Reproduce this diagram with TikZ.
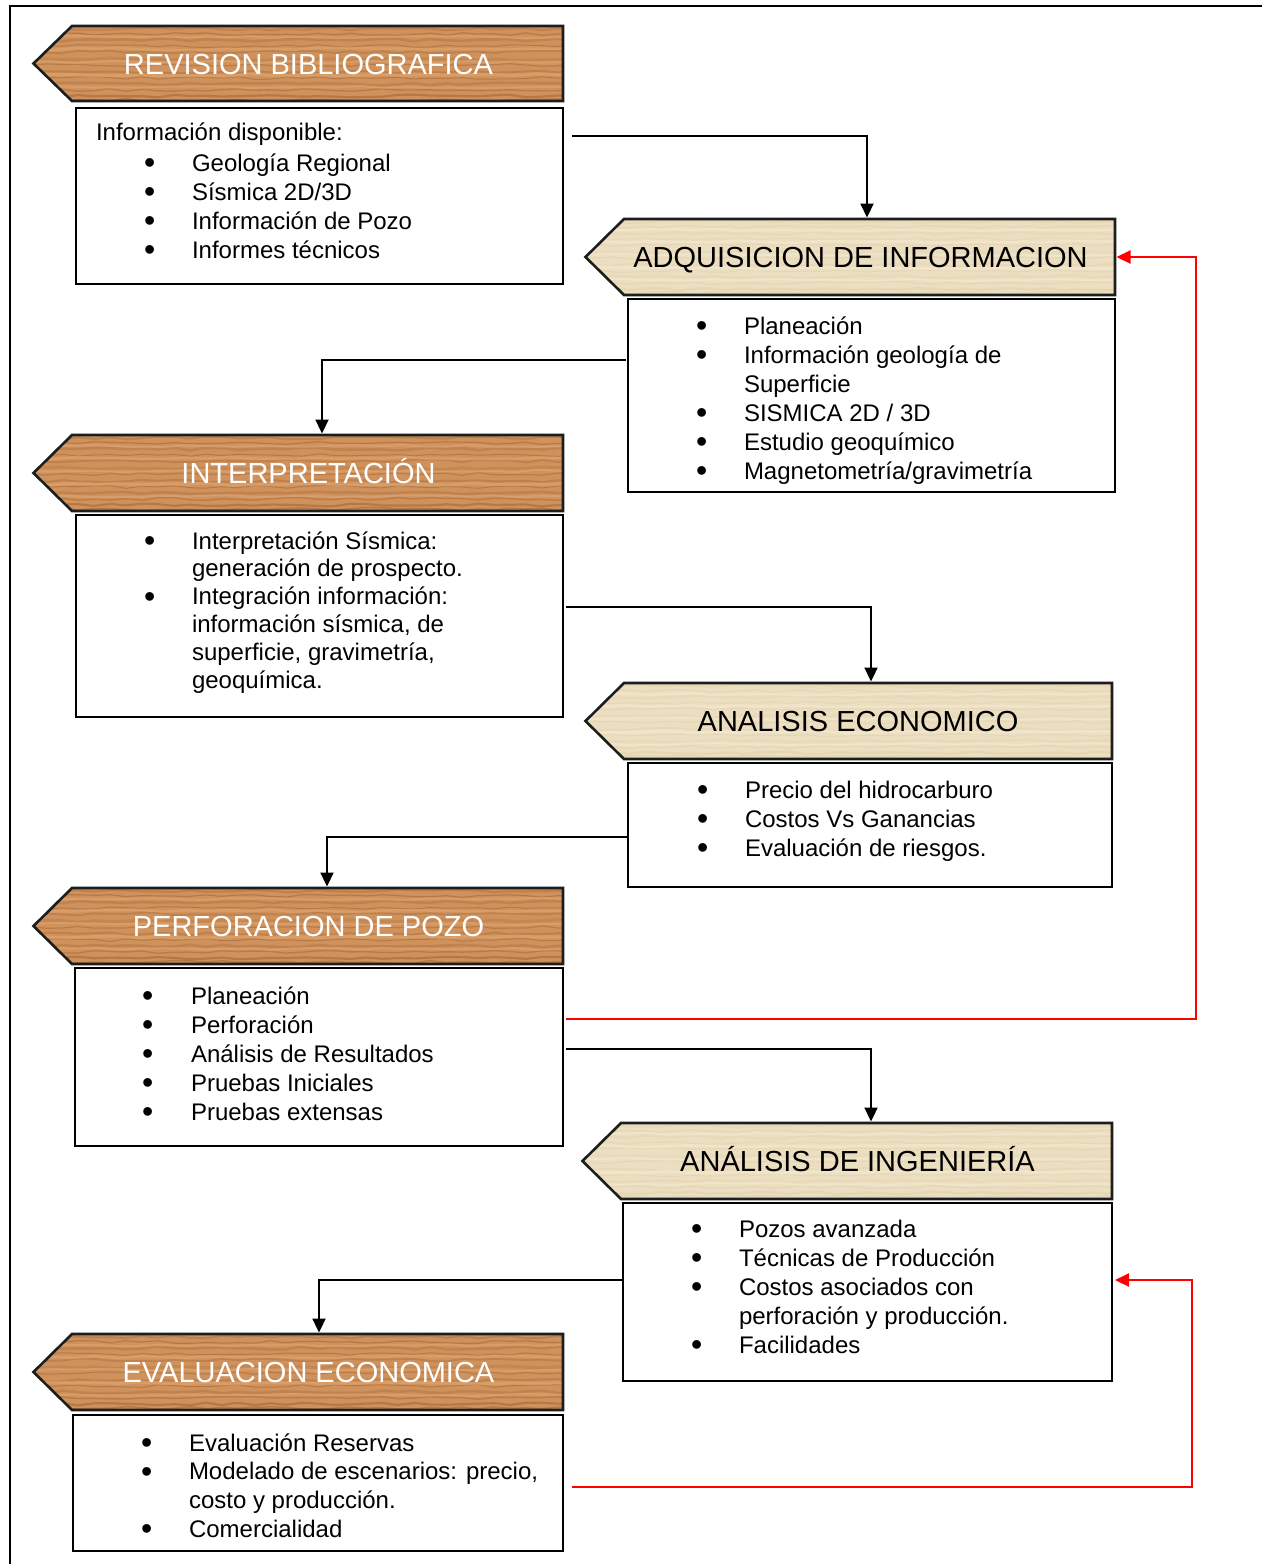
\documentclass[tikz,border=0pt]{standalone}
\usepackage{fontspec}
\setmainfont{Liberation Sans}
\usetikzlibrary{arrows.meta,decorations.pathmorphing}
\definecolor{woodbase}{RGB}{208,146,92}
\definecolor{woodstreak}{RGB}{158,96,48}
\definecolor{woodlight}{RGB}{228,174,120}
\definecolor{paperbase}{RGB}{236,222,192}
\definecolor{paperstreak}{RGB}{214,196,158}
\definecolor{paperlight}{RGB}{247,238,218}
\definecolor{hdrborder}{RGB}{28,30,30}
\newcommand\bul{\hspace*{-2pt}\smash{\raisebox{-2.5pt}{\fontsize{32}{29}\selectfont\textbullet}}}
\newcommand\drawhdr[3]{%
  \begin{scope}
    \clip (#1.north west) -- (#1.north east) -- (#1.south east) -- (#1.south west) -- ([xshift=-38.5pt]#1.west) -- cycle;
    \fill[#2base] ([xshift=-42pt]#1.north west) rectangle (#1.south east);
    \foreach \dy/\lw/\op in {3/2/0.35, 8/1.2/0.5, 14/2.6/0.3, 20/1/0.5, 26/1.8/0.35, 33/3/0.22, 39/1.2/0.45, 46/2/0.35, 52/1/0.5, 58/2.6/0.3, 64/1.4/0.45, 70/2.2/0.5, 74/1.5/0.5}{
      \draw[#2streak, line width=\lw pt, opacity=#3*\op, decorate,
        decoration={random steps, segment length=16pt, amplitude=1.4pt}]
        ([xshift=-42pt,yshift=-\dy pt]#1.north west) -- ([xshift=6pt,yshift=-\dy pt]#1.north east);
    }
    \foreach \dy/\lw in {11/2, 23/2.5, 36/2, 49/3, 61/2}{
      \draw[#2light, line width=\lw pt, opacity=0.45, decorate,
        decoration={random steps, segment length=22pt, amplitude=1.2pt}]
        ([xshift=-42pt,yshift=-\dy pt]#1.north west) -- ([xshift=6pt,yshift=-\dy pt]#1.north east);
    }
  \end{scope}
  \draw[hdrline] (#1.north west) -- (#1.north east) -- (#1.south east) -- (#1.south west) -- ([xshift=-38.5pt]#1.west) -- cycle;
}
\begin{document}
\begin{tikzpicture}[x=1pt,y=-1pt,
  hrect/.style={shape=rectangle, inner sep=0pt, outer sep=0pt, draw=none},
  hdrline/.style={draw=hdrborder, line width=2.6pt, line join=miter},
  htxt/.style={inner sep=0pt, outer sep=0pt, anchor=base, font=\fontsize{29}{34}\selectfont},
  boxs/.style={shape=rectangle, draw=black, line width=1.3pt, inner sep=0pt, outer sep=0pt},
  txt/.style={inner sep=0pt, outer sep=0pt, anchor=base west, font=\fontsize{24}{29}\selectfont},
  conn/.style={line width=2.2pt, -{Triangle[length=14pt,width=13pt]}},
  redconn/.style={conn, color=red}]
\useasboundingbox (0,0) rectangle (1262,1564);
\fill[white] (0,0) rectangle (1262,1564);
% frame
\draw[line width=1.5pt] (1262,6) -- (10,6) -- (10,1564);
\pgfmathsetseed{11}
% headers
\node[hrect, minimum width=491pt, minimum height=75pt] (h1) at (317.5,63.5) {};
\node[hrect, minimum width=491pt, minimum height=76pt] (h2) at (869.5,257) {};
\node[hrect, minimum width=491pt, minimum height=76pt] (h3) at (317.5,473) {};
\node[hrect, minimum width=488pt, minimum height=76pt] (h4) at (868,721) {};
\node[hrect, minimum width=491pt, minimum height=76pt] (h5) at (317.5,926) {};
\node[hrect, minimum width=491pt, minimum height=76pt] (h6) at (866.5,1161) {};
\node[hrect, minimum width=491pt, minimum height=76pt] (h7) at (317.5,1372) {};
\drawhdr{h1}{wood}{1}
\drawhdr{h2}{paper}{0.6}
\drawhdr{h3}{wood}{1}
\drawhdr{h4}{paper}{0.6}
\drawhdr{h5}{wood}{1}
\drawhdr{h6}{paper}{0.6}
\drawhdr{h7}{wood}{1}
\node[htxt, text=white] (h1t) at ([xshift=-9pt,yshift=-10.5pt]h1.center) {REVISION BIBLIOGRAFICA};
\node[htxt, text=black] (h2t) at ([xshift=-9pt,yshift=-10.5pt]h2.center) {ADQUISICION DE INFORMACION};
\node[htxt, text=white] (h3t) at ([xshift=-9pt,yshift=-10.5pt]h3.center) {INTERPRETACIÓN};
\node[htxt, text=black] (h4t) at ([xshift=-10pt,yshift=-10.5pt]h4.center) {ANALISIS ECONOMICO};
\node[htxt, text=white] (h5t) at ([xshift=-9pt,yshift=-10.5pt]h5.center) {PERFORACION DE POZO};
\node[htxt, text=black] (h6t) at ([xshift=-9pt,yshift=-10.5pt]h6.center) {ANÁLISIS DE INGENIERÍA};
\node[htxt, text=white] (h7t) at ([xshift=-9pt,yshift=-10.5pt]h7.center) {EVALUACION ECONOMICA};
% boxes
\node[boxs, minimum width=487pt, minimum height=176pt] (b1) at (319.5,196) {};
\node[boxs, minimum width=487pt, minimum height=193pt] (b2) at (871.5,395.5) {};
\node[boxs, minimum width=487pt, minimum height=202pt] (b3) at (319.5,616) {};
\node[boxs, minimum width=484pt, minimum height=124pt] (b4) at (870,825) {};
\node[boxs, minimum width=488pt, minimum height=178pt] (b5) at (319,1057) {};
\node[boxs, minimum width=489pt, minimum height=178pt] (b6) at (867.5,1292) {};
\node[boxs, minimum width=490pt, minimum height=136pt] (b7) at (318,1483) {};
% box texts
\node[txt] (l1a) at (96,140) {Información disponible:};
\node[txt] (l1) at (146,171) {\begin{tabular}[t]{@{}p{46pt}@{}l@{}}
\bul & Geología Regional\\
\bul & Sísmica 2D/3D\\
\bul & Información de Pozo\\
\bul & Informes técnicos
\end{tabular}};
\node[txt] (l2) at (698,334) {\begin{tabular}[t]{@{}p{46pt}@{}l@{}}
\bul & Planeación\\
\bul & Información geología de\\
 & Superficie\\
\bul & SISMICA 2D / 3D\\
\bul & Estudio geoquímico\\
\bul & Magnetometría/gravimetría
\end{tabular}};
\node[txt, font=\fontsize{24}{27.8}\selectfont] (l3) at (146,549) {\begin{tabular}[t]{@{}p{46pt}@{}l@{}}
\bul & Interpretación Sísmica:\\
 & generación de prospecto.\\
\bul & Integración información:\\
 & información sísmica, de\\
 & superficie, gravimetría,\\
 & geoquímica.
\end{tabular}};
\node[txt] (l4) at (699,798) {\begin{tabular}[t]{@{}p{46pt}@{}l@{}}
\bul & Precio del hidrocarburo\\
\bul & Costos Vs Ganancias\\
\bul & Evaluación de riesgos.
\end{tabular}};
\node[txt] (l5) at (144,1004) {\begin{tabular}[t]{@{}p{47pt}@{}l@{}}
\bul & Planeación\\
\bul & Perforación\\
\bul & Análisis de Resultados\\
\bul & Pruebas Iniciales\\
\bul & Pruebas extensas
\end{tabular}};
\node[txt] (l6) at (693,1237) {\begin{tabular}[t]{@{}p{46pt}@{}l@{}}
\bul & Pozos avanzada\\
\bul & Técnicas de Producción\\
\bul & Costos asociados con\\
 & perforación y producción.\\
\bul & Facilidades
\end{tabular}};
\node[txt, font=\fontsize{24}{28.7}\selectfont] (l7) at (143,1451) {\begin{tabular}[t]{@{}p{46pt}@{}l@{}}
\bul & Evaluación Reservas\\
\bul & Modelado de escenarios: precio,\\
 & costo y producción.\\
\bul & Comercialidad
\end{tabular}};
% black connectors
\draw[conn] ([xshift=9pt,yshift=-28pt]b1.north east) -| ([xshift=-2.5pt,yshift=1.5pt]h2.north);
\draw[conn] ([xshift=-2pt,yshift=-61pt]b2.north west) -| ([xshift=4.5pt,yshift=1.5pt]h3.north);
\draw[conn] ([xshift=3pt,yshift=-92pt]b3.north east) -| ([xshift=3pt,yshift=1.5pt]h4.north);
\draw[conn] ([yshift=-74pt]b4.north west) -| ([xshift=9.5pt,yshift=1.5pt]h5.north);
\draw[conn] ([xshift=3pt,yshift=-81pt]b5.north east) -| ([xshift=4.5pt,yshift=1.5pt]h6.north);
\draw[conn] ([yshift=-77pt]b6.north west) -| ([xshift=1.5pt,yshift=1.5pt]h7.north);
% red feedback connectors
\draw[redconn] ([xshift=3pt,yshift=-51pt]b5.north east) -| ([xshift=81pt]h2.east) -- ([xshift=1.5pt]h2.east);
\draw[redconn] ([xshift=9pt,yshift=-72pt]b7.north east) -| ([xshift=80pt,yshift=12pt]b6.east) -- ([xshift=3pt,yshift=12pt]b6.east);
\end{tikzpicture}
\end{document}
